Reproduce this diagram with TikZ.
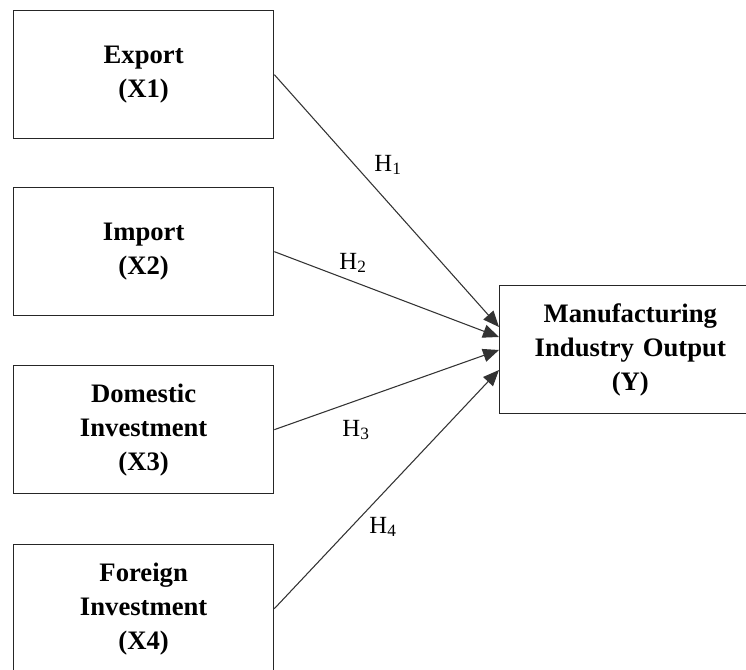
\documentclass[tikz,border=0pt]{standalone}
\usepackage{fontspec}
\setmainfont{Liberation Serif}
\usetikzlibrary{arrows.meta}
\tikzset{
  box/.style={draw=black!85, line width=1pt, fill=white, minimum width=195pt, minimum height=96pt,
    align=center, inner sep=0pt, font=\bfseries\fontsize{20}{25.5}\selectfont, anchor=north west},
  link/.style={draw=black!80, line width=0.8pt, -{Triangle[length=12pt,width=10pt]}},
  hlab/.style={font=\fontsize{18.5}{20}\selectfont, inner sep=0pt}
}
\begin{document}
\begin{tikzpicture}[x=0.75pt,y=-0.75pt]
\clip (0,0) rectangle (746,670);
\useasboundingbox (0,0) rectangle (746,670);
\node[box] (exp) at (13,10) {Export\\(X1)};
\node[box] (imp) at (13,187) {Import\\(X2)};
\node[box] (dom) at (13,365) {Domestic\\Investment\\(X3)};
\node[box] (for) at (13,544) {Foreign\\Investment\\(X4)};
\node[box, minimum width=196pt, text width=177pt] (out) at (499,285) {Manufacturing\\Industry Output\\(Y)};
\coordinate (t1) at (499,327);
\coordinate (t2) at (499,337);
\coordinate (t3) at (499,350);
\coordinate (t4) at (499,370);
\draw[link] (exp.east) -- (t1);
\draw[link] (imp.east) -- (t2);
\draw[link] (dom.east) -- (t3);
\draw[link] (for.east) -- (t4);
\node[hlab] (h1) at (388,165) {H\textsubscript{1}};
\node[hlab] (h2) at (353,263) {H\textsubscript{2}};
\node[hlab] (h3) at (356,430) {H\textsubscript{3}};
\node[hlab] (h4) at (383,527) {H\textsubscript{4}};
\end{tikzpicture}
\end{document}
